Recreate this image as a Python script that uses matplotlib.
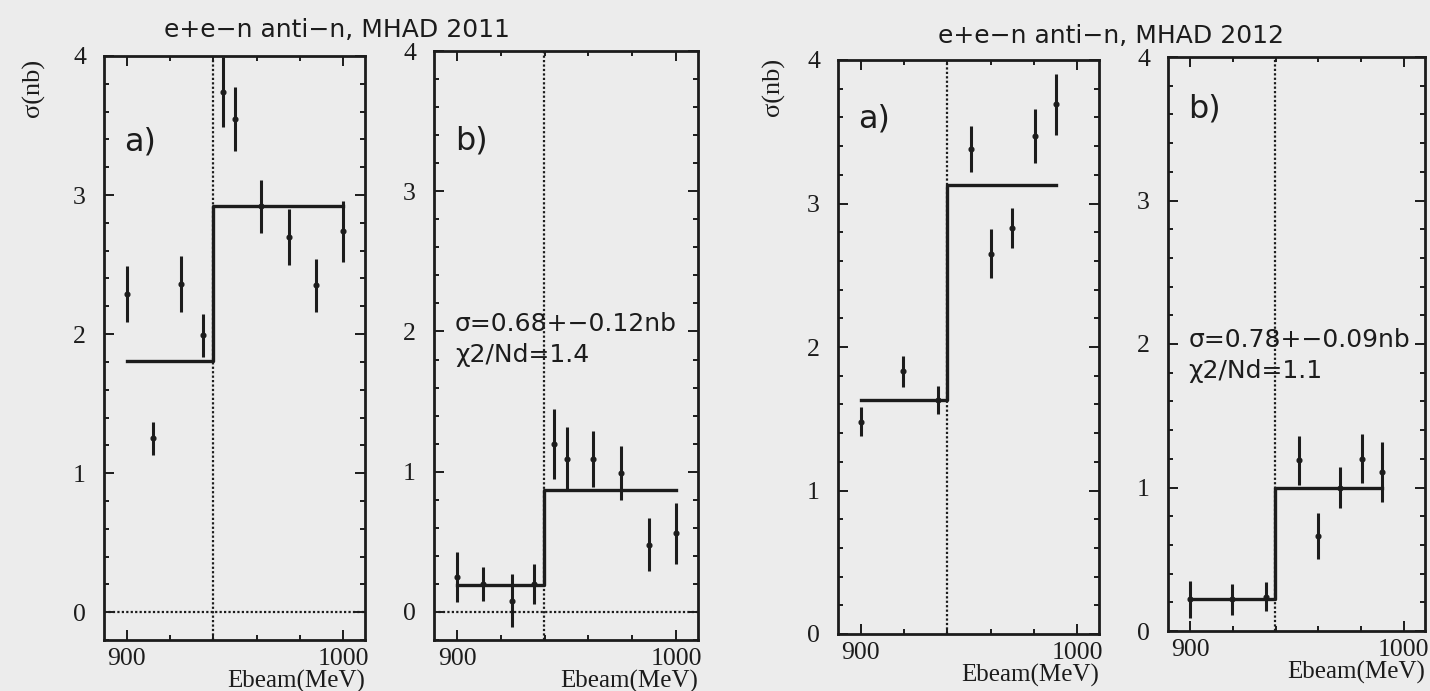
"""Сечение e+e- -> n anti-n по сканам MHAD 2011 и MHAD 2012: подгонка ступенькой у порога."""
import matplotlib
matplotlib.use("Agg")
import matplotlib.pyplot as plt
from matplotlib.ticker import MultipleLocator

BG   = "#ececec"
INK  = "#1c1c1c"
SANS = "DejaVu Sans"
SERIF = "Liberation Serif"

E_THR = 939.6   # порог рождения пары n anti-n, МэВ

# ── MHAD 2011 ──────────────────────────────────────────────
e2011 = [900, 912, 925, 935, 944.5, 950, 962, 975, 987.5, 1000]

sig_2011a = [2.29, 1.25, 2.36, 1.99, 3.74, 3.55, 2.92, 2.70, 2.35, 2.74]
err_2011a = [0.20, 0.12, 0.20, 0.155, 0.25, 0.23, 0.19, 0.20, 0.19, 0.22]
fit_2011a = [1.81, 2.92]          # уровни до и после порога

sig_2011b = [0.25, 0.20, 0.08, 0.20, 1.20, 1.09, 1.09, 0.99, 0.48, 0.56]
err_2011b = [0.18, 0.12, 0.19, 0.14, 0.25, 0.23, 0.20, 0.19, 0.19, 0.22]
base_2011b = 0.19
step_2011b = 0.68                 # сигма = 0.68 +- 0.12 нб

# ── MHAD 2012 ──────────────────────────────────────────────
e2012 = [900, 919.5, 935.5, 951, 960, 970, 980.3, 990]

sig_2012a = [1.48, 1.83, 1.63, 3.38, 2.65, 2.83, 3.47, 3.69]
err_2012a = [0.10, 0.11, 0.10, 0.16, 0.17, 0.14, 0.19, 0.21]
fit_2012a = [1.63, 3.13]

sig_2012b = [0.22, 0.22, 0.24, 1.19, 0.66, 1.00, 1.20, 1.11]
err_2012b = [0.13, 0.11, 0.10, 0.17, 0.16, 0.14, 0.17, 0.21]
base_2012b = 0.22
step_2012b = 0.78                 # сигма = 0.78 +- 0.09 нб

W, H = 1430, 691


def style_ax(ax, ylo, h_px):
    ax.set_facecolor(BG)
    ax.set_xlim(889.5, 1010)
    ax.set_ylim(ylo, 4.0)
    for sp in ax.spines.values():
        sp.set_linewidth(2.0)
        sp.set_color(INK)
    ax.xaxis.set_major_locator(MultipleLocator(100))
    ax.xaxis.set_minor_locator(MultipleLocator(20))
    ax.yaxis.set_major_locator(MultipleLocator(1))
    ax.yaxis.set_minor_locator(MultipleLocator(0.2))
    ax.tick_params(which="both", direction="in", top=True, right=True,
                   colors=INK, width=1.4)
    ax.tick_params(which="major", length=7)
    ax.tick_params(which="minor", length=3.5)
    ax.tick_params(axis="y", which="major", pad=13)
    ax.tick_params(axis="x", which="major", pad=6)
    for lab in ax.get_xticklabels() + ax.get_yticklabels():
        lab.set_family(SERIF)
        lab.set_fontsize(18.5)
    # подпись оси X прижата к правому краю, под меткой 1000
    ax.text(1.0, -41 / h_px, "Ebeam(MeV)", transform=ax.transAxes,
            ha="right", va="center", family=SERIF, fontsize=18, color=INK)


def draw_panel(ax, h_px, e, sig, err, lo, hi, ylo, tag, tag_y):
    style_ax(ax, ylo, h_px)
    ax.axvline(E_THR, color=INK, lw=1.6, ls=(0, (1, 1)), zorder=1)
    if ylo < 0:
        ax.axhline(0, color=INK, lw=1.6, ls=(0, (1, 1)), zorder=1)
    # ступенька подгонки от первой до последней точки скана
    ax.plot([e[0], E_THR, E_THR, e[-1]], [lo, lo, hi, hi],
            color=INK, lw=2.4, zorder=2)
    ax.errorbar(e, sig, yerr=err, fmt="o", ms=3.4, color=INK,
                ecolor=INK, elinewidth=2.2, capsize=0, zorder=3)
    ax.text(899, tag_y, tag, family=SANS, fontsize=23, color=INK,
            ha="left", va="center")


fig = plt.figure(figsize=(W / 100, H / 100), dpi=100, facecolor=BG)


def add_axes(l, r, t, b):
    ax = fig.add_axes([l / W, 1 - b / H, (r - l) / W, (b - t) / H])
    return ax, b - t


ax1, h1 = add_axes(104, 365, 56, 640)
ax2, h2 = add_axes(434, 698, 51, 640)
ax3, h3 = add_axes(838, 1099, 60, 634)
ax4, h4 = add_axes(1168, 1425, 57, 631)

draw_panel(ax1, h1, e2011, sig_2011a, err_2011a, fit_2011a[0], fit_2011a[1],
           -0.2, "a)", 3.38)
draw_panel(ax2, h2, e2011, sig_2011b, err_2011b, base_2011b,
           base_2011b + step_2011b, -0.2, "b)", 3.36)
draw_panel(ax3, h3, e2012, sig_2012a, err_2012a, fit_2012a[0], fit_2012a[1],
           0.0, "a)", 3.59)
draw_panel(ax4, h4, e2012, sig_2012b, err_2012b, base_2012b,
           base_2012b + step_2012b, 0.0, "b)", 3.64)

# подписи результата подгонки
for ax, s, chi, y in [(ax2, "0.68+\u22120.12nb", "1.4", 2.05),
                      (ax4, "0.78+\u22120.09nb", "1.1", 2.03)]:
    ax.text(899, y, "\u03c3=" + s, family=SANS, fontsize=18, color=INK,
            ha="left", va="center")
    ax.text(899, y - 0.22, "\u03c72/Nd=" + chi, family=SANS, fontsize=18,
            color=INK, ha="left", va="center")

# заголовки сканов и подписи оси Y
fig.text(337 / W, 1 - 30 / H, "e+e\u2212n anti\u2212n, MHAD 2011",
         family=SANS, fontsize=18, color=INK, ha="center", va="center")
fig.text(1111 / W, 1 - 36 / H, "e+e\u2212n anti\u2212n, MHAD 2012",
         family=SANS, fontsize=18, color=INK, ha="center", va="center")
fig.text(33 / W, 1 - 88 / H, "\u03c3(nb)", family=SERIF, fontsize=19,
         color=INK, rotation=90, ha="center", va="center")
fig.text(773 / W, 1 - 87 / H, "\u03c3(nb)", family=SERIF, fontsize=19,
         color=INK, rotation=90, ha="center", va="center")

fig.savefig("out.png", dpi=100, facecolor=BG)
